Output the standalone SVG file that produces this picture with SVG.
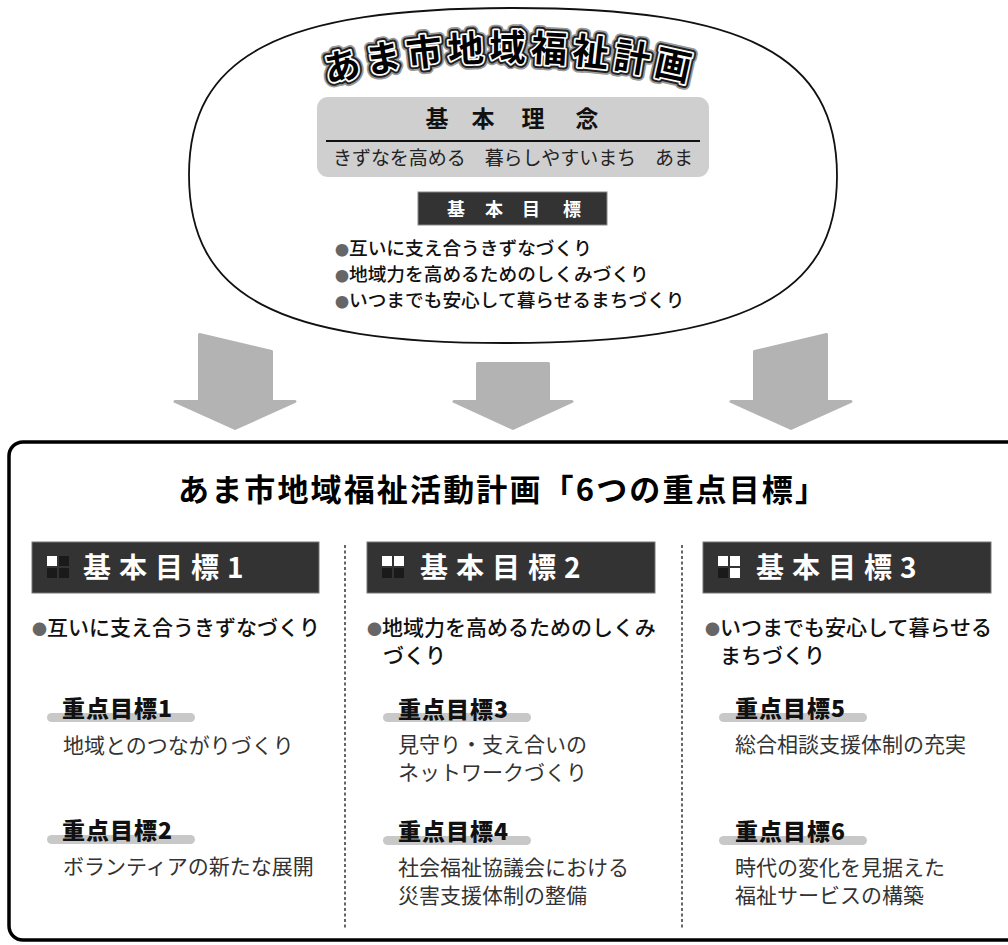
<svg xmlns="http://www.w3.org/2000/svg" width="1008" height="945" viewBox="0 0 1008 945">
<style>
text{font-family:"Noto Sans CJK JP","Noto Sans",sans-serif}
.b{font-weight:bold}
.hdr{fill:#333;stroke:#777;stroke-width:1}
.hdrt{fill:#fff;font-weight:bold;font-size:28px;letter-spacing:8px}
.sqw{fill:#fff}
.sqd{fill:#1a1a1a}
.bul{font-size:21px;font-weight:500;fill:#111}
.dot{fill:#666}
.lbl{font-size:23px;font-weight:900;fill:#111;letter-spacing:1px}
.pill{fill:#c8c8c8}
.desc{font-size:21px;fill:#333}
.arrow{fill:#b3b3b3;stroke:#b3b3b3;stroke-width:3;stroke-linejoin:round}
.sep{stroke:#555;stroke-width:1.8;stroke-dasharray:3 2.5;fill:none}
.ttl{font-size:36px;font-weight:bold;letter-spacing:5px}
</style>
<defs>
<path id="arc" d="M 270,100 A 752 752 0 0 1 750,100"/>
</defs>
<rect width="1008" height="945" fill="#fff"/>

<g id="plan">
<path d="M 513,8 C 746,8 837,55 837,176 C 837,296 744,343 505,343 C 277,343 189,296 189,175 C 189,55 280,8 513,8 Z" fill="#fff" stroke="#111" stroke-width="1.8"/>
<g id="plan-title">
<text class="ttl" text-anchor="middle" fill="none" stroke="#999" stroke-width="11" stroke-linejoin="round"><textPath href="#arc" startOffset="50%">あま市地域福祉計画</textPath></text>
<text class="ttl" text-anchor="middle" fill="none" stroke="#222" stroke-width="7.5" stroke-linejoin="round"><textPath href="#arc" startOffset="50%">あま市地域福祉計画</textPath></text>
<text class="ttl" text-anchor="middle" fill="none" stroke="#fff" stroke-width="3.5" stroke-linejoin="round"><textPath href="#arc" startOffset="50%">あま市地域福祉計画</textPath></text>
<text class="ttl" text-anchor="middle" fill="#000"><textPath href="#arc" startOffset="50%">あま市地域福祉計画</textPath></text>
</g>
<g id="philosophy">
<rect x="317" y="97" width="392" height="80" rx="11" fill="#cfcfcf"/>
<text class="b" x="437 483 533 587" y="127" font-size="23" text-anchor="middle" fill="#111">基本理念</text>
<line x1="326" y1="141" x2="700" y2="141" stroke="#111" stroke-width="2"/>
<text x="333" y="165" font-size="19" fill="#222" textLength="360" lengthAdjust="spacing">きずなを高める　暮らしやすいまち　あま</text>
</g>
<g id="basic-goals">
<rect x="418" y="192" width="189" height="33" fill="#333" stroke="#888" stroke-width="1"/>
<text class="b" x="456 494 531 572" y="216" font-size="18" text-anchor="middle" fill="#fff">基本目標</text>
<text x="335" y="255" font-size="18.7" font-weight="500" fill="#111"><tspan class="dot" font-size="14">●</tspan>互いに支え合うきずなづくり</text>
<text x="335" y="281" font-size="18.7" font-weight="500" fill="#111"><tspan class="dot" font-size="14">●</tspan>地域力を高めるためのしくみづくり</text>
<text x="335" y="307" font-size="18.7" font-weight="500" fill="#111"><tspan class="dot" font-size="14">●</tspan>いつまでも安心して暮らせるまちづくり</text>
</g>
</g>

<g id="connectors">
<polygon class="arrow" points="199.5,334.5 271.5,351.5 271.5,401.5 295,401.5 235,428.5 175,401.5 199.5,401.5"/>
<polygon class="arrow" points="477.5,363.5 548.5,363.5 548.5,401.5 572,401.5 513,428.5 454,401.5 477.5,401.5"/>
<polygon class="arrow" points="754.5,351.5 826.5,334.5 826.5,401.5 851,401.5 791,428.5 731,401.5 754.5,401.5"/>
</g>

<g id="activity-plan">
<rect x="9" y="442" width="1020" height="498" rx="14" fill="#fff" stroke="#000" stroke-width="3.5"/>
<text class="b" x="178" y="501" font-size="31" font-weight="900" fill="#000" textLength="648" lengthAdjust="spacing">あま市地域福祉活動計画「6つの重点目標」</text>
<line class="sep" x1="345" y1="545" x2="345" y2="928"/>
<line class="sep" x1="682" y1="545" x2="682" y2="928"/>
</g>

<g id="goal1">
<rect class="hdr" x="32" y="542" width="287" height="51"/>
<rect class="sqw" x="47" y="556" width="10" height="10"/>
<rect class="sqd" x="59" y="556" width="10" height="10"/>
<rect class="sqd" x="47" y="568" width="10" height="10"/>
<rect class="sqd" x="59" y="568" width="10" height="10"/>
<text class="hdrt" x="83" y="578">基本目標1</text>
<text class="bul" x="32" y="635"><tspan class="dot" font-size="15">●</tspan>互いに支え合うきずなづくり</text>
<g id="focus1">
<rect class="pill" x="47" y="713" width="148" height="9" rx="4.5"/>
<text class="lbl" x="62" y="717">重点目標1</text>
<text class="desc" x="63" y="753">地域とのつながりづくり</text>
</g>
<g id="focus2">
<rect class="pill" x="47" y="835" width="148" height="9" rx="4.5"/>
<text class="lbl" x="62" y="839">重点目標2</text>
<text class="desc" x="63" y="874">ボランティアの新たな展開</text>
</g>
</g>

<g id="goal2">
<rect class="hdr" x="367" y="542" width="288" height="51"/>
<rect class="sqw" x="382" y="556" width="10" height="10"/>
<rect class="sqw" x="394" y="556" width="10" height="10"/>
<rect class="sqd" x="382" y="568" width="10" height="10"/>
<rect class="sqd" x="394" y="568" width="10" height="10"/>
<text class="hdrt" x="420" y="578">基本目標2</text>
<text class="bul" x="367" y="635"><tspan class="dot" font-size="15">●</tspan>地域力を高めるためのしくみ</text>
<text class="bul" x="383" y="663">づくり</text>
<g id="focus3">
<rect class="pill" x="383" y="713" width="148" height="9" rx="4.5"/>
<text class="lbl" x="398" y="718">重点目標3</text>
<text class="desc" x="398" y="752">見守り・支え合いの</text>
<text class="desc" x="398" y="780">ネットワークづくり</text>
</g>
<g id="focus4">
<rect class="pill" x="383" y="836" width="148" height="9" rx="4.5"/>
<text class="lbl" x="398" y="840">重点目標4</text>
<text class="desc" x="398" y="875">社会福祉協議会における</text>
<text class="desc" x="398" y="903">災害支援体制の整備</text>
</g>
</g>

<g id="goal3">
<rect class="hdr" x="703" y="542" width="288" height="51"/>
<rect class="sqw" x="718" y="556" width="10" height="10"/>
<rect class="sqw" x="730" y="556" width="10" height="10"/>
<rect class="sqd" x="718" y="568" width="10" height="10"/>
<rect class="sqw" x="730" y="568" width="10" height="10"/>
<text class="hdrt" x="756" y="578">基本目標3</text>
<text class="bul" x="705" y="635"><tspan class="dot" font-size="15">●</tspan>いつまでも安心して暮らせる</text>
<text class="bul" x="720" y="663">まちづくり</text>
<g id="focus5">
<rect class="pill" x="719" y="713" width="148" height="9" rx="4.5"/>
<text class="lbl" x="735" y="717">重点目標5</text>
<text class="desc" x="735" y="752">総合相談支援体制の充実</text>
</g>
<g id="focus6">
<rect class="pill" x="719" y="836" width="148" height="9" rx="4.5"/>
<text class="lbl" x="735" y="840">重点目標6</text>
<text class="desc" x="735" y="875">時代の変化を見据えた</text>
<text class="desc" x="735" y="903">福祉サービスの構築</text>
</g>
</g>
</svg>
